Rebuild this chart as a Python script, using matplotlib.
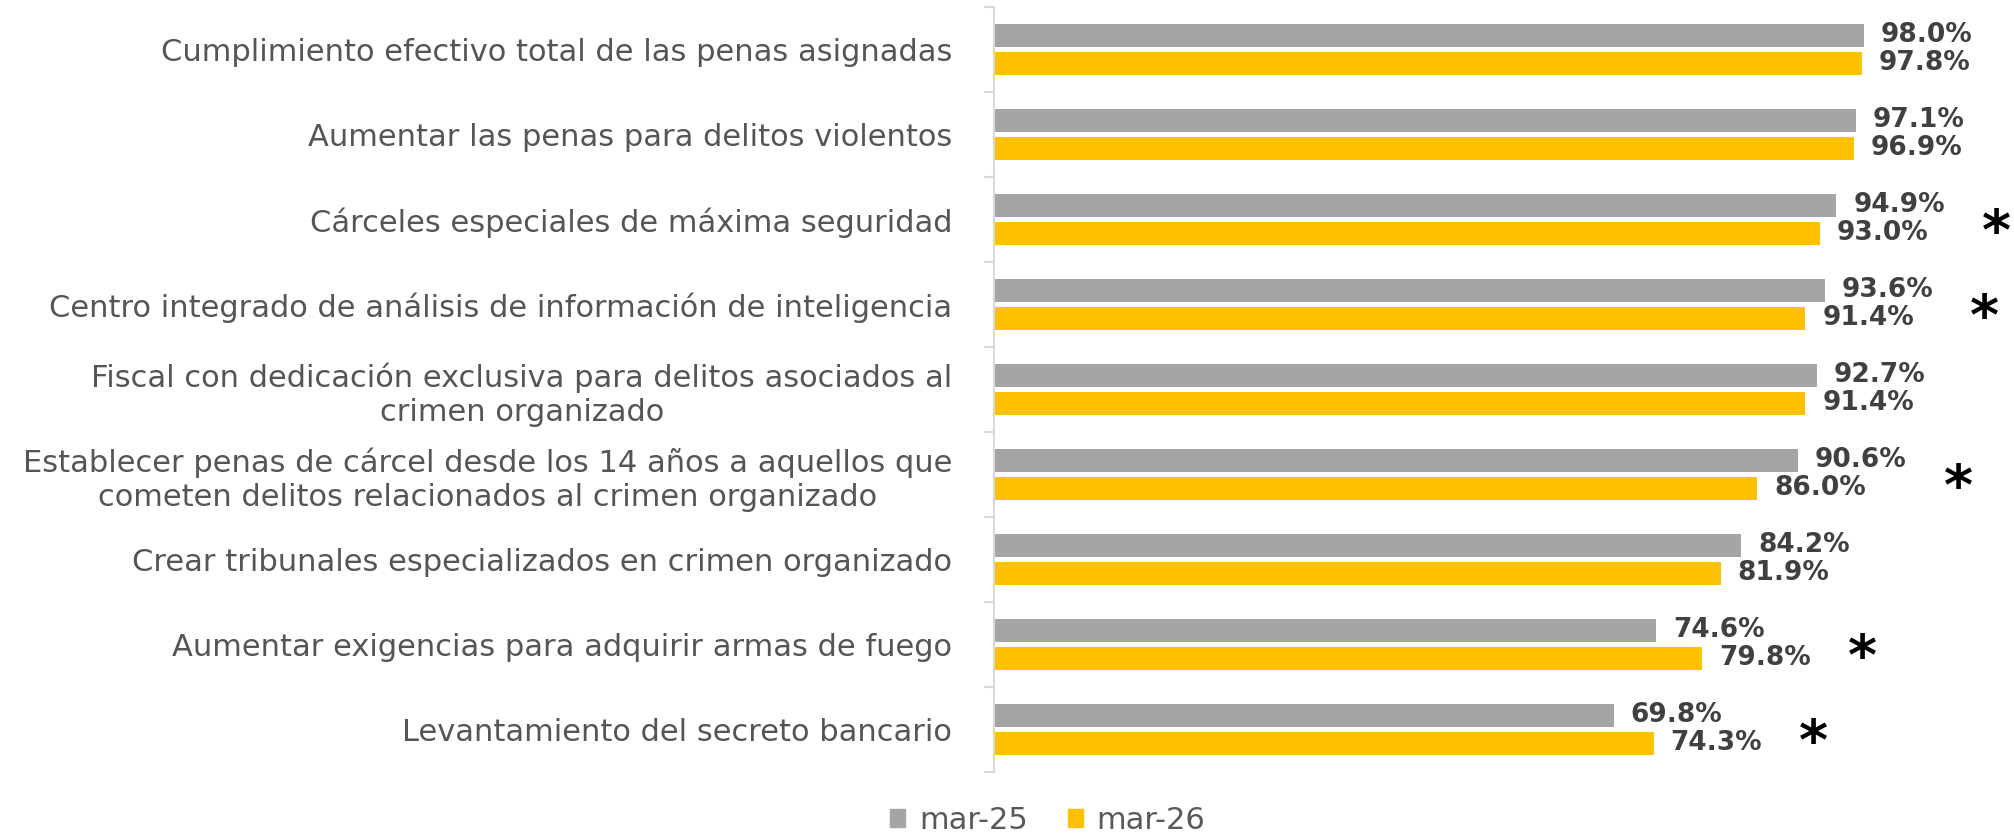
import matplotlib.pyplot as plt
import numpy as np
from matplotlib.patches import Patch

categorias = [
    "Cumplimiento efectivo total de las penas asignadas",
    "Aumentar las penas para delitos violentos",
    "Cárceles especiales de máxima seguridad",
    "Centro integrado de análisis de información de inteligencia",
    "Fiscal con dedicación exclusiva para delitos asociados al\ncrimen organizado",
    "Establecer penas de cárcel desde los 14 años a aquellos que\ncometen delitos relacionados al crimen organizado",
    "Crear tribunales especializados en crimen organizado",
    "Aumentar exigencias para adquirir armas de fuego",
    "Levantamiento del secreto bancario",
]
mar25 = [98.0, 97.1, 94.9, 93.6, 92.7, 90.6, 84.2, 74.6, 69.8]
mar26 = [97.8, 96.9, 93.0, 91.4, 91.4, 86.0, 81.9, 79.8, 74.3]
significativo = [False, False, True, True, False, True, False, True, True]
series = ["mar-25", "mar-26"]

GRIS = '#A5A5A5'
AMARILLO = '#FFC000'
TEXTO = '#404040'
FUENTE = 'DejaVu Sans'

fig = plt.figure(figsize=(20.15, 8.39), dpi=100)
ax = fig.add_axes([0.4933, 0.0799, 0.5022, 0.9118])

y = np.arange(len(categorias))
alto = 0.28
ax.barh(y - 0.165, mar25, height=alto, color=GRIS, zorder=2)
ax.barh(y + 0.165, mar26, height=alto, color=AMARILLO, zorder=2)

for i in range(len(categorias)):
    ax.text(mar25[i] + 1.9, i - 0.165, f"{mar25[i]:.1f}%", va='center', ha='left',
            fontsize=19, fontweight='bold', color=TEXTO, family=FUENTE)
    ax.text(mar26[i] + 1.9, i + 0.165, f"{mar26[i]:.1f}%", va='center', ha='left',
            fontsize=19, fontweight='bold', color=TEXTO, family=FUENTE)
    if significativo[i]:
        ax.annotate('*', xy=(max(mar25[i], mar26[i]) + 18, i), xytext=(0, -21),
                    textcoords='offset points', ha='center', va='baseline',
                    fontsize=40, fontweight='bold', color='black')

ax.set_xlim(0, 114)
ax.set_ylim(len(categorias) - 0.5, -0.5)
ax.set_xticks([])
ax.set_yticks(y)
ax.set_yticklabels(categorias, fontsize=22, color='#555555', family=FUENTE,
                   multialignment='center', linespacing=1.2)
ax.tick_params(axis='y', which='major', length=0, pad=30)
ax.set_yticks(np.arange(-0.5, len(categorias)), minor=True)
ax.tick_params(axis='y', which='minor', length=7, width=1.5, color='#D9D9D9')

for s in ['top', 'right', 'bottom']:
    ax.spines[s].set_visible(False)
ax.spines['left'].set_color('#D9D9D9')
ax.spines['left'].set_linewidth(1.5)

handles = [Patch(color=GRIS), Patch(color=AMARILLO)]
fig.legend(handles, series, loc='lower center', bbox_to_anchor=(0.52, -0.028),
           ncol=2, frameon=False, handlelength=0.5, handleheight=0.5,
           handletextpad=0.45, columnspacing=1.3,
           prop={'family': FUENTE, 'size': 22}, labelcolor='#595959')

plt.savefig('out.png', dpi=100)
